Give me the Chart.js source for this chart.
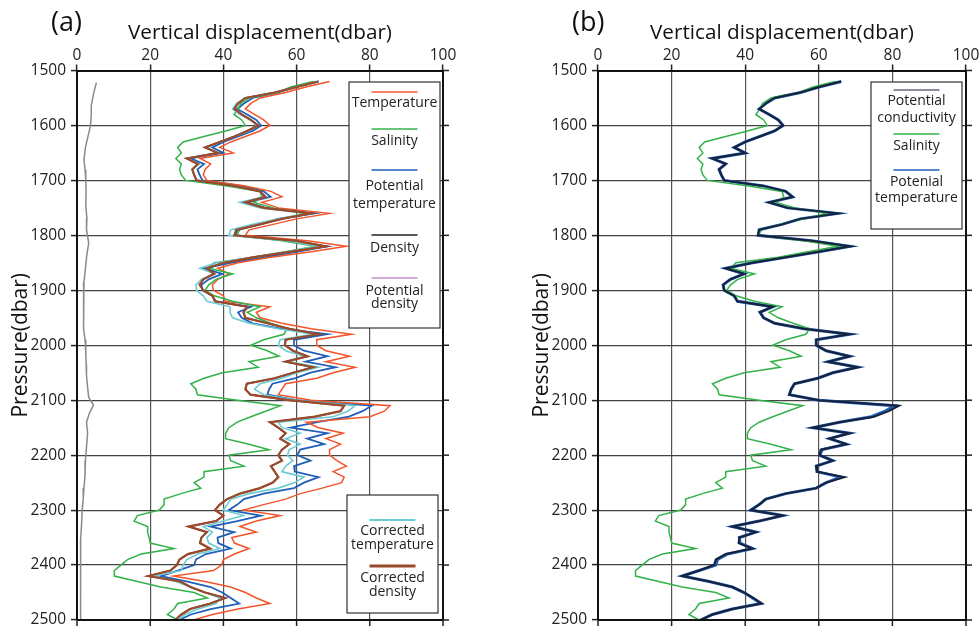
<!DOCTYPE html>
<html>
<head>
<meta charset="utf-8">
<script src="https://cdn.jsdelivr.net/npm/chart.js@4.4.1/dist/chart.umd.min.js"></script>
<style>
  html, body { margin: 0; padding: 0; background: #fff; }
  #wrap { position: relative; width: 979px; height: 628px; }
  .panel { position: absolute; top: 0; width: 489px; height: 628px; }
</style>
</head>
<body>
<div id="wrap">
  <div class="panel" style="left:0"><canvas id="chartA" width="489" height="628"></canvas></div>
  <div class="panel" style="left:490px"><canvas id="chartB" width="489" height="628"></canvas></div>
</div>
<script>
// pressure levels (dbar)
const pressure = [
  1520,1530,1540,1550,1560,1570,1580,1590,1600,1610,
  1620,1630,1640,1650,1660,1670,1680,1690,1700,1710,
  1720,1730,1740,1750,1760,1770,1780,1790,1800,1810,
  1820,1830,1840,1850,1860,1870,1880,1890,1900,1910,
  1920,1930,1940,1950,1960,1970,1980,1990,2000,2010,
  2020,2030,2040,2050,2060,2070,2080,2090,2100,2110,
  2120,2130,2140,2150,2160,2170,2180,2190,2200,2210,
  2220,2230,2240,2250,2260,2270,2280,2290,2300,2310,
  2320,2330,2340,2350,2360,2370,2380,2390,2400,2410,
  2420,2430,2440,2450,2460,2470,2480,2490,2500
]

// vertical displacement (dbar)
const temperature = [
  69,62.5,57,50,47.5,46,48.5,51,52.7,50,
  46,42,39,42.7,33.6,36.5,35,34.5,35.5,46,
  53,56,50.5,55,69,60,53.6,47,46,63,
  73.6,64,53,44,38.5,41.5,38.5,37,37.3,40,
  40.5,52.7,49,50,56,64,75,65.5,65.5,68,
  74.5,68,76,70,65.5,57,56,55,64,85.5,
  84,80,62.7,66,72.7,68,72,69,69,71,
  73.6,70,73,72.3,67,61,57,51,45.5,55.5,
  49,44.5,49,42.3,43,47,43,40,39.5,37.3,
  26.4,35,42,46,49,52.7,44,37,31.8
]
const salinity = [
  64.5,58.4,54.7,47,44.7,44,42.9,45,46,40.6,
  34.7,29,27.5,28.5,27,28.5,28,28.5,29.7,41,
  50,50.5,48.4,53.5,62,56,49.5,44.5,43.5,56,
  65.2,57,49,37.5,36,42.5,38,36,35,37.5,
  42.5,50,46.5,49,53,57.5,56.5,51,47.5,52,
  55.2,47,49.5,39.7,34.7,31.1,32.5,32.9,43.8,55.6,
  51.5,47.5,43.8,41.5,40.6,40.6,47,52.5,41.5,42,
  45.6,34.7,34.7,32,33.8,28.4,23.8,23.8,22.5,16.5,
  15.6,19.3,19.3,19.7,20,26.5,17.5,13.8,12,10.2,
  10.2,16.5,22.9,32,35.6,27.5,26.5,24.7,27.5
]
const potTemp = [
  66.1,60,55,48,45.6,43.8,46.5,49,50.3,48,
  44,40,37,40,31,34.7,32.9,33.5,34.3,45,
  51,52.9,46.5,51.5,65,55,50,43.8,43.5,58,
  68.4,60,51,42,34.7,39.7,36,34,34.3,37,
  37.9,47.5,44,45,48,56,68.4,59.3,59.3,62,
  68.4,62.5,70.6,63.8,59.7,53.4,52.5,52,60,80.5,
  78,74.3,65.6,58.4,68.4,62.9,67.5,61,60.2,63.8,
  59.3,59.5,66,62,59.3,51,45.6,43.8,41.5,50.2,
  43.8,36.5,42.9,38.4,38.6,42,35.2,32.5,32,27.5,
  22.9,30.2,36.5,39.7,42,44.3,36.5,31.1,27.9
]
const corrTemp = [
  66,60,54,46,43.5,42.5,44.5,47.5,49,47,
  43,39,35.5,38.5,30,33.5,31.5,32,32.7,43,
  50,51,44.5,50,63,55,48,42,41.5,58,
  66,57,48,38,33.6,37.5,34,32.5,32.7,34.5,
  35.5,41.8,41.8,42.5,47,55,64.5,55.5,55,57,
  62,58,66,60,56,50,48.5,51,60,76,
  74,70,55,56,61,57,61,58,57.5,59,
  57,56,62,59.5,55,47,42,41,40,45.5,
  40,34.5,37,35.5,36,39,33,30,29,28.5,
  20.9,27,31,35,39,38,33,29.5,27.5
]
const corrDensity = [
  65.9,60,54,46,44,43,45,47.5,49.5,46.5,
  43,39,35,38.5,30,33,31.5,32,32.7,43,
  50,51.5,46,51,64,56,50,43.5,43,60,
  68,58,48,40,35.5,37.5,34.5,33.5,34.5,37,
  37.7,46.5,45.5,46,52,58,66,57,56.8,59,
  63,57,64.5,59,54,46.4,46,47.4,58,73,
  72,65,52.7,55,57,55.5,58,56,55,56,
  53,54,55,53.5,50,44.5,41,39,37.7,40,
  38,30.5,35.5,34,33.6,36.4,30.3,28,27.3,25.5,
  19.5,28.2,31,35,40.5,36.4,30.9,28.5,26.8
]
// density and potential density lie under the corrected density line
const density = corrDensity
const potDensity = corrDensity
const conductivity = [
  66.1,60,55,48,45.6,43.8,46.5,49,50.3,48,
  44,40,37,40,31,34.7,32.9,33.5,34.3,45,
  51,52.9,46.5,51.5,65.2,55,50,43.8,43.5,58,
  68.6,60,51,42,34.7,39.7,36,34,34.3,37,
  37.9,47.5,44,45,48,56,68.4,59.3,59.3,62,
  68.4,62.5,70.6,63.8,59.7,53.4,52.5,52,60,81.8,
  79,75,65.6,58.4,68.4,62.9,67.5,60.5,60.2,63.8,
  59.3,59.5,67,62,59.3,51,45.6,43.8,41.5,50.2,
  43.8,36.5,42.9,38.4,38.2,42,34.7,32,31.5,27.5,
  22.9,30.2,36.5,39.7,42.3,44.5,36.5,31.1,27.9
]
// grey trace near zero in panel (a)
const greyP = [
  1522,1540,1564,1580,1600,1620,1640,1663,1680,1700,
  1720,1745,1769,1790,1814,1835,1860,1885,1910,1930,
  1949,1970,1990,2013,2035,2055,2077,2095,2109,2125,
  2140,2160,2185,2210,2237,2260,2280,2301,2320,2353,
  2380,2420,2460,2500
]
const greyV = [
  5.3,4.6,3.9,3.9,3.7,3.0,2.3,1.9,2.2,2.4,
  2.5,2.4,2.7,2.6,3.2,2.7,2.3,1.9,1.8,1.9,
  1.7,1.8,2.2,2.4,2.5,2.6,2.9,3.2,4.5,3.3,
  2.6,2.9,2.6,2.3,2.2,1.9,1.7,1.4,1.3,1.0,
  1.0,0.9,1.0,1.0
]

const FONT = '"Open Sans", "DejaVu Sans", sans-serif'

function pts(vals, ps) {
  return vals.map((v, i) => ({ x: v, y: ps[i] }))
}

function line(label, vals, color, width, ps) {
  return {
    label: label,
    data: pts(vals, ps || pressure),
    borderColor: color,
    borderWidth: width,
    showLine: true,
    pointRadius: 0,
    tension: 0,
    fill: false
  }
}

const decor = {
  id: 'decor',
  afterDraw(chart, args, o) {
    const { ctx, chartArea: a } = chart
    const x = chart.scales.x, y = chart.scales.y
    ctx.save()
    // right and bottom frame
    ctx.strokeStyle = '#111'
    ctx.lineWidth = 2
    ctx.beginPath()
    ctx.moveTo(a.right, a.top)
    ctx.lineTo(a.right, a.bottom)
    ctx.lineTo(a.left, a.bottom)
    ctx.stroke()
    // ticks on right and bottom
    ctx.lineWidth = 1.5
    ctx.strokeStyle = '#222'
    y.ticks.forEach(t => {
      const py = y.getPixelForValue(t.value)
      ctx.beginPath(); ctx.moveTo(a.right, py); ctx.lineTo(a.right + 6, py); ctx.stroke()
    })
    x.ticks.forEach(t => {
      const px = x.getPixelForValue(t.value)
      ctx.beginPath(); ctx.moveTo(px, a.bottom); ctx.lineTo(px, a.bottom + 6); ctx.stroke()
    })
    // titles
    ctx.fillStyle = '#111'
    ctx.textAlign = 'center'
    ctx.textBaseline = 'middle'
    ctx.font = '20.7px ' + FONT
    ctx.fillText(o.xTitle, (a.left + a.right) / 2, o.xTitleY)
    ctx.save()
    ctx.translate(o.yTitleX, (a.top + a.bottom) / 2)
    ctx.rotate(-Math.PI / 2)
    ctx.font = '21px ' + FONT
    ctx.fillText(o.yTitle, 0, 0)
    ctx.restore()
    ctx.font = '27px ' + FONT
    ctx.textAlign = 'left'
    ctx.fillText(o.tag, o.tagX, o.tagY)
    // legend boxes
    o.legends.forEach(b => {
      ctx.fillStyle = '#fff'
      ctx.fillRect(b.x, b.y, b.w, b.h)
      ctx.strokeStyle = '#333'
      ctx.lineWidth = 1.2
      ctx.strokeRect(b.x, b.y, b.w, b.h)
      const cx = b.x + b.w / 2
      b.items.forEach(it => {
        const ds = chart.data.datasets[it.ds]
        ctx.strokeStyle = ds.borderColor
        ctx.lineWidth = it.lw || 1.3
        ctx.beginPath(); ctx.moveTo(cx - 23, it.lineY); ctx.lineTo(cx + 23, it.lineY); ctx.stroke()
        ctx.fillStyle = '#222'
        ctx.font = '14px ' + FONT
        ctx.textAlign = 'center'
        ctx.textBaseline = 'middle'
        ds.label.split('\n').forEach((s, i) => ctx.fillText(s, cx, it.textY[i]))
      })
    })
    ctx.restore()
  }
}

function makeChart(id, datasets, cfg) {
  const tickFont = { family: FONT, size: 15.5 }
  return new Chart(document.getElementById(id), {
    type: 'scatter',
    data: { datasets: datasets },
    options: {
      responsive: false,
      animation: false,
      events: [],
      layout: { padding: { left: 0, top: 0, right: 489 - cfg.right, bottom: 628 - cfg.bottom } },
      plugins: {
        legend: { display: false },
        tooltip: { enabled: false },
        decor: cfg.decor
      },
      scales: {
        x: {
          type: 'linear', position: 'top', min: 0, max: 100,
          ticks: { stepSize: 20, color: '#222', font: tickFont, padding: 0, maxRotation: 0,
                   callback: v => String(v) },
          grid: { color: '#555', lineWidth: 1.2, tickLength: 6, tickColor: '#222', tickWidth: 1.5 },
          border: { display: true, color: '#111', width: 2 },
          afterFit: s => { s.height = cfg.top; s.paddingLeft = 0; s.paddingRight = 0 }
        },
        y: {
          type: 'linear', reverse: true, min: 1500, max: 2500,
          ticks: { stepSize: 100, color: '#222', font: tickFont, padding: 5,
                   callback: v => String(v) },
          grid: { color: '#444', lineWidth: 1.2, tickLength: 6, tickColor: '#222', tickWidth: 1.5 },
          border: { display: true, color: '#111', width: 2 },
          afterFit: s => { s.width = cfg.left; s.paddingTop = 0; s.paddingBottom = 0 }
        }
      }
    },
    plugins: [decor]
  })
}

// panel (a)
makeChart('chartA', [
  line('Corrected\ndensity', corrDensity, '#9a4a2b', 2.2),
  line('Corrected\ntemperature', corrTemp, '#6ccbd3', 1.6),
  line('Salinity', salinity, '#33b24a', 1.5),
  line('Temperature', temperature, '#f2552c', 1.5),
  line('Potential\ntemperature', potTemp, '#1f5fb8', 1.8),
  line('Potential\ndensity', potDensity, '#c48fcd', 1.5),
  line('Density', density, '#222', 1.5),
  line('', greyV, '#8a8a8a', 1.5, greyP)
], {
  left: 77, right: 443, top: 70.5, bottom: 620,
  decor: {
    xTitle: 'Vertical displacement(dbar)', xTitleY: 33,
    yTitle: 'Pressure(dbar)', yTitleX: 21,
    tag: '(a)', tagX: 51, tagY: 23,
    legends: [
      { x: 349, y: 82, w: 91, h: 246, items: [
        { ds: 3, lineY: 92, textY: [103] },
        { ds: 2, lineY: 129, textY: [141] },
        { ds: 4, lineY: 170, textY: [186, 204] },
        { ds: 6, lineY: 235, textY: [248] },
        { ds: 5, lineY: 278, textY: [291, 304] }
      ] },
      { x: 347, y: 495, w: 91, h: 118, items: [
        { ds: 1, lineY: 520, textY: [531, 545], lw: 2 },
        { ds: 0, lineY: 566, textY: [578, 592], lw: 3 }
      ] }
    ]
  }
})

// panel (b)
makeChart('chartB', [
  line('Potential\nconductivity', conductivity, '#18213a', 2),
  line('Salinity', salinity, '#33b24a', 1.5),
  line('Potenial\ntemperature', potTemp, '#1f5fb8', 3)
], {
  left: 108, right: 476, top: 70.5, bottom: 620,
  decor: {
    xTitle: 'Vertical displacement(dbar)', xTitleY: 33,
    yTitle: 'Pressure(dbar)', yTitleX: 52,
    tag: '(b)', tagX: 82, tagY: 23,
    legends: [
      { x: 381, y: 82, w: 91, h: 147, items: [
        { ds: 0, lineY: 90, textY: [101, 118], lw: 1.2 },
        { ds: 1, lineY: 134, textY: [146] },
        { ds: 2, lineY: 170, textY: [182, 198], lw: 1.3 }
      ] }
    ]
  }
})
</script>
</body>
</html>
